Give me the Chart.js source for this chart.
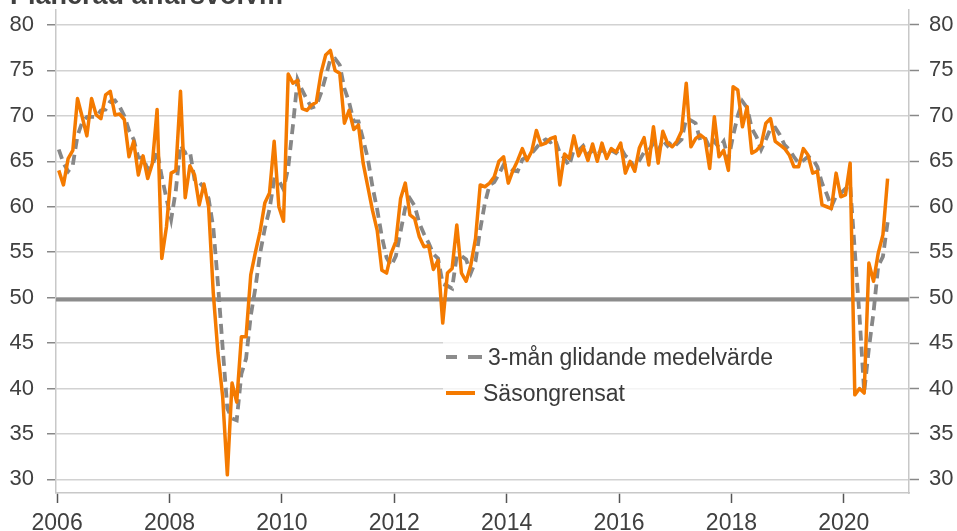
<!DOCTYPE html>
<html>
<head>
<meta charset="utf-8">
<script src="https://cdn.jsdelivr.net/npm/chart.js@4.4.1/dist/chart.umd.min.js"></script>
<style>
  html, body { margin: 0; padding: 0; background: #fff; }
  #wrap { position: relative; width: 957px; height: 531px; overflow: hidden; font-family: "Liberation Sans", Arial, sans-serif; }
  /* the title is cut off at the top edge, only its lower rim shows */
  #titleClip { position: absolute; left: 0; top: 0; width: 420px; height: 4px; overflow: hidden; }
  #title { position: absolute; left: 10px; top: -18px; font-size: 27px; line-height: 27px; font-weight: bold; color: #404040; white-space: nowrap; }
  #legend { position: absolute; left: 443px; top: 340px; width: 397px; height: 72px; background: rgba(255,255,255,0.75); }
  .row { position: absolute; left: 0; height: 28px; font-size: 23px; line-height: 28px; color: #3a3a3a; white-space: nowrap; }
  .swatch { position: absolute; height: 4px; }
  canvas { position: absolute; left: 0; top: 0; }
</style>
</head>
<body>
<div id="wrap">
  <canvas id="chart" width="957" height="531"></canvas>
  <div id="titleClip"><div id="title">Planerad affärsvolym</div></div>
  <div id="legend">
    <div class="row" style="top:3px; width:397px;">
      <div class="swatch" style="left:3px; top:12px; width:11px; background:#8c8c8c;"></div>
      <div class="swatch" style="left:25px; top:12px; width:14px; background:#8c8c8c;"></div>
      <span style="position:absolute; left:45px;">3-mån glidande medelvärde</span>
    </div>
    <div class="row" style="top:39px; width:397px;">
      <div class="swatch" style="left:3px; top:12px; width:29px; background:#f47a00;"></div>
      <span style="position:absolute; left:40px;">Säsongrensat</span>
    </div>
  </div>
</div>
<script>
// Monthly values, Jan 2006 - Oct 2020
const startYear = 2006;

const sasongrensat = [
  64.0, 62.4, 65.3, 66.2, 71.9, 69.9, 67.8, 71.9, 70.1, 69.7, 72.3, 72.7,
  70.1, 70.2, 69.6, 65.5, 67.2, 63.5, 65.6, 63.1, 64.8, 70.7, 54.3, 57.8,
  63.7, 64.0, 72.7, 61.0, 64.5, 63.5, 60.2, 62.5, 60.0, 50.5, 43.9, 39.1,
  30.5, 40.6, 38.5, 45.7, 45.7, 52.5, 55.0, 57.3, 60.4, 61.5, 67.2, 60.0,
  58.4, 74.6, 73.6, 73.9, 70.8, 70.6, 71.2, 71.5, 74.7, 76.7, 77.2, 75.0,
  74.7, 69.2, 70.6, 68.5, 69.0, 64.8, 62.2, 59.6, 57.4, 53.0, 52.7, 54.9,
  56.2, 60.9, 62.6, 59.1, 58.7, 56.7, 55.6, 55.7, 53.1, 54.1, 47.2, 52.7,
  53.2, 58.0, 52.7, 51.8, 53.6, 56.5, 62.4, 62.2, 62.6, 63.3, 65.0, 65.5,
  62.6, 64.0, 65.1, 66.4, 65.1, 66.1, 68.4, 66.8, 67.0, 67.5, 67.7, 62.4,
  65.8, 65.3, 67.8, 65.6, 66.6, 65.1, 66.9, 65.0, 67.0, 65.3, 66.4, 66.0,
  67.0, 63.7, 65.0, 63.9, 66.5, 67.6, 64.6, 68.8, 64.8, 68.3, 67.0, 66.6,
  67.2, 68.3, 73.6, 66.6, 67.5, 67.9, 67.5, 64.2, 69.9, 65.5, 66.2, 64.0,
  73.2, 72.85, 68.8, 71.0, 65.9, 66.2, 66.8, 69.2, 69.7, 67.2, 66.8, 66.4,
  65.7, 64.4, 64.4, 66.4, 65.7, 63.7, 63.9, 60.2, 60.0, 59.8, 63.7, 61.1,
  61.3, 64.8, 39.3, 40.0, 39.5, 53.8, 51.8, 54.9, 56.9, 63.1
];

const glidande = [
  66.3, 64.8, 63.9, 64.6, 67.8, 69.3, 69.9, 69.9, 69.9, 70.6, 70.7, 71.6,
  71.7, 71.0, 70.0, 68.4, 67.4, 65.4, 65.4, 64.1, 64.5, 66.2, 63.3, 60.9,
  58.6, 61.8, 66.8, 65.9, 66.1, 63.0, 62.7, 62.1, 60.9, 57.7, 51.5, 44.5,
  37.8, 36.7, 36.5, 41.6, 43.3, 48.0, 51.1, 54.9, 57.6, 59.7, 63.0, 62.9,
  61.9, 64.3, 68.9, 74.0, 72.8, 71.8, 70.9, 71.1, 72.5, 74.3, 76.2, 76.3,
  75.6, 73.0, 71.5, 69.4, 69.4, 67.4, 65.3, 62.2, 59.7, 56.7, 54.4, 53.5,
  54.6, 57.3, 59.9, 60.9, 60.1, 58.2, 57.0, 56.0, 54.8, 54.3, 51.5, 51.3,
  51.0, 54.6, 54.6, 54.2, 52.7, 54.0, 57.5, 60.4, 62.4, 62.7, 63.6, 64.6,
  64.4, 64.0, 63.9, 65.2, 65.5, 65.9, 66.5, 67.1, 67.4, 67.1, 67.4, 65.9,
  65.3, 64.5, 66.3, 66.2, 66.7, 65.8, 66.2, 65.7, 66.3, 65.8, 66.2, 65.9,
  66.5, 65.6, 65.2, 64.2, 65.1, 66.0, 66.2, 67.0, 66.1, 67.3, 66.7, 67.3,
  66.9, 67.4, 69.7, 69.5, 69.2, 67.3, 67.6, 66.5, 67.2, 66.5, 67.2, 65.2,
  67.8, 70.0, 71.6, 70.9, 68.6, 67.7, 66.3, 67.4, 68.6, 68.7, 67.9, 66.8,
  66.3, 65.5, 64.8, 65.1, 65.5, 65.3, 64.4, 62.6, 61.4, 60.0, 61.2, 61.5,
  62.0, 62.4, 55.1, 48.0, 39.6, 44.4, 48.4, 53.5, 54.5, 58.3
];

const yTicks = [30, 35, 40, 45, 50, 55, 60, 65, 70, 75, 80];
const xTicks = [2006, 2008, 2010, 2012, 2014, 2016, 2018, 2020];
const referenceLevel = 49.8;

const xMin = 2005.98;
const xMax = 2021.16;

// month index -> decimal year
const toPoints = arr => arr.map((v, i) => ({ x: startYear + (i + 0.35) / 12, y: v }));

const tickFont = { family: '"Liberation Sans", Arial, sans-serif', size: 22 };
const labelColor = '#404040';

// keep the plot box fixed: no extra room for overhanging labels
const noPad = s => { s.paddingTop = 0; s.paddingBottom = 0; s.paddingLeft = 0; s.paddingRight = 0; };

new Chart(document.getElementById('chart'), {
  type: 'line',
  data: {
    datasets: [
      {
        label: 'Säsongrensat',
        data: toPoints(sasongrensat),
        borderColor: '#f47a00',
        borderWidth: 3.5,
        borderJoinStyle: 'round',
        pointRadius: 0,
        tension: 0,
        order: 0
      },
      {
        label: '3-mån glidande medelvärde',
        data: toPoints(glidande),
        borderColor: '#878787',
        borderWidth: 3.8,
        borderDash: [10, 6],
        pointRadius: 0,
        tension: 0,
        order: 1
      },
      {
        label: 'ref',
        data: [{ x: xMin, y: referenceLevel }, { x: xMax, y: referenceLevel }],
        borderColor: '#8c8c8c',
        borderWidth: 4,
        pointRadius: 0,
        order: 2
      }
    ]
  },
  options: {
    responsive: false,
    animation: false,
    layout: { padding: { top: 10, left: 0, right: 0, bottom: 0 } },
    plugins: { legend: { display: false }, tooltip: { enabled: false } },
    scales: {
      x: {
        type: 'linear',
        min: xMin,
        max: xMax,
        afterBuildTicks: s => { s.ticks = xTicks.map(v => ({ value: v })); },
        afterFit: s => { s.height = 38; noPad(s); },
        grid: { drawOnChartArea: false, tickLength: 10, tickColor: '#555', tickWidth: 1.5 },
        border: { color: '#c8c8c8', width: 1.5 },
        ticks: { font: { ...tickFont, size: 23 }, color: labelColor, padding: 7, maxRotation: 0, autoSkip: false, callback: v => String(v) }
      },
      y: {
        position: 'left',
        min: 28.5,
        max: 81.65,
        afterBuildTicks: s => { s.ticks = yTicks.map(v => ({ value: v })); },
        afterFit: s => { s.width = 56; noPad(s); },
        grid: { color: '#d2d2d2', lineWidth: 1.5, tickLength: 9, tickColor: '#888', tickWidth: 1.5 },
        border: { color: '#c8c8c8', width: 1.5 },
        ticks: { font: tickFont, color: labelColor, padding: 13 }
      },
      y2: {
        position: 'right',
        min: 28.5,
        max: 81.65,
        afterBuildTicks: s => { s.ticks = yTicks.map(v => ({ value: v })); },
        afterFit: s => { s.width = 48; noPad(s); },
        grid: { drawOnChartArea: false, tickLength: 10, tickColor: '#888', tickWidth: 1.5 },
        border: { color: '#c8c8c8', width: 1.5 },
        ticks: { font: tickFont, color: labelColor, padding: 10 }
      }
    }
  }
});
</script>
</body>
</html>
